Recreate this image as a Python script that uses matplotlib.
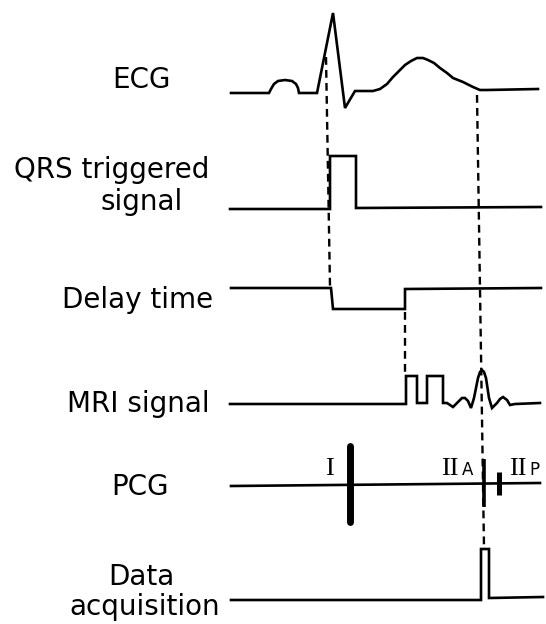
import matplotlib
matplotlib.use("Agg")
from matplotlib import pyplot as plt

# Кривые в координатах рисунка (x - время, y - сверху вниз)
ecg_t = [231, 269, 271, 274, 278, 285, 292, 296, 298, 299, 317, 333, 345, 355, 373,
         380, 387, 393, 399, 405, 411, 417, 423, 428, 434, 440, 447, 453, 463, 473,
         480, 487, 538]
ecg_v = [93, 93, 89, 84, 81, 80, 81, 84, 88, 93, 93, 13, 108, 91, 91,
         89, 84, 77, 71, 65, 61, 58, 58, 60, 63, 68, 73, 78, 82, 87,
         90, 90, 89]

qrs_t = [230, 330, 330, 356, 356, 541]
qrs_v = [209, 209, 156, 156, 208, 207]

delay_t = [231, 331, 333, 405, 405, 541]
delay_v = [288, 288, 309, 309, 289, 288]

mri_t = [230, 406, 406, 417, 417, 427, 427, 443, 443, 447, 450, 453, 458, 462, 465,
         468, 471, 474, 478, 480, 482, 484, 486, 489, 492, 497, 500, 503, 507,
         510, 515, 540]
mri_v = [404, 404, 376, 376, 403, 403, 376, 376, 403, 403, 405, 407, 402, 398, 398,
         401, 408, 398, 378, 372, 370, 372, 378, 398, 408, 403, 399, 397, 400,
         405, 404, 403]

pcg_t = [231, 540]
pcg_v = [486, 483]

acq_t = [231, 481, 481, 489, 489, 543]
acq_v = [600, 600, 549, 549, 598, 597]

# Тоны сердца: x, верх, низ, толщина
heart_sounds = [(349.5, 446, 522, 5.0), (484, 459, 507, 2.6), (498.5, 472, 495, 3.6)]

# Пунктирные связи
dash_lines = [([326, 330], [57, 287]), ([477, 484], [95, 548]), ([405, 405], [312, 375])]

labels = ["ECG", "QRS triggered", "signal", "Delay time", "MRI signal", "PCG",
          "Data", "acquisition"]
label_x = [141, 112, 142, 137.5, 138, 140, 141.5, 144.5]
label_y = [88, 178, 210, 308, 412, 495, 585, 615]

fig = plt.figure(figsize=(5.46, 6.24), dpi=100)
ax = fig.add_axes([0, 0, 1, 1])
ax.set_xlim(0, 546)
ax.set_ylim(624, 0)
ax.axis("off")

lw = 1.9
for t, v in [(ecg_t, ecg_v), (qrs_t, qrs_v), (delay_t, delay_v), (mri_t, mri_v),
             (pcg_t, pcg_v), (acq_t, acq_v)]:
    ax.plot(t, v, color="black", lw=lw, solid_joinstyle="miter")

for x, top, bot, w in heart_sounds:
    cap = "round" if w > 4 else "butt"
    ax.plot([x, x], [top, bot], color="black", lw=w, solid_capstyle=cap)

for xs, ys in dash_lines:
    ax.plot(xs, ys, color="black", lw=1.7, dashes=(3.3, 2.2))

for s, x, y in zip(labels, label_x, label_y):
    ax.text(x, y, s, ha="center", va="baseline", fontsize=20, color="black")

# Римские цифры тонов
serif = "Liberation Serif"
ax.text(329.5, 475, "I", ha="center", va="baseline", fontsize=19, family=serif)
ax.text(450, 475, "II", ha="center", va="baseline", fontsize=19, family=serif)
ax.text(467.5, 475, "A", ha="center", va="baseline", fontsize=12)
ax.text(517.5, 475, "II", ha="center", va="baseline", fontsize=19, family=serif)
ax.text(534, 475, "P", ha="center", va="baseline", fontsize=12)

fig.savefig("out.png", dpi=100)
